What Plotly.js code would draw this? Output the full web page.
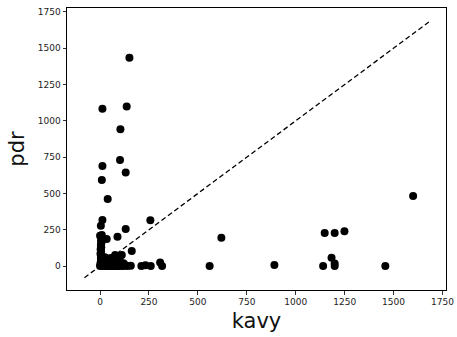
<!DOCTYPE html>
<html>
<head>
<meta charset="utf-8">
<script src="https://cdn.plot.ly/plotly-3.0.1.min.js"></script>
<style>html,body{margin:0;padding:0;background:#fff;}#chart{width:457px;height:337px;}</style>
</head>
<body>
<div id="chart"></div>
<script>
const kavy = [0,2,3,5,4,6,2,5,3,6,4,7,5,8,0,9,4,12,
  10,15,20,25,30,35,40,45,50,55,60,65,70,75,80,85,90,95,100,110,120,130,140,157,
  20,30,40,50,60,70,80,90,25,35,15,45,55,77,111,100,120,162,34,89,131,257,
  211,232,259,307,317,560,620,
  12,9,39,102,131,12,104,136,150,
  891,1140,1183,1199,1199,1148,1199,1249,1458,1600];
const pdr = [0,10,25,40,55,70,85,100,115,130,145,160,175,190,209,214,278,317,
  0,5,0,10,3,0,8,0,5,0,12,2,0,6,0,3,0,4,0,2,0,5,0,2,
  30,20,45,35,25,50,30,15,60,15,45,20,55,76,76,40,20,103,186,202,255,315,
  0,5,0,25,0,0,195,
  689,593,462,730,645,1084,942,1098,1435,
  7,0,57,18,0,227,227,239,0,482];
const lineX = [-80, 1680];
const lineY = [-80, 1680];
const tickVals = [0,250,500,750,1000,1250,1500,1750];

const traces = [
  {x: kavy, y: pdr, type: 'scatter', mode: 'markers',
   marker: {color: '#000000', size: 8}, hoverinfo: 'skip'},
  {x: lineX, y: lineY, type: 'scatter', mode: 'lines',
   line: {color: '#000000', width: 1.3, dash: '5px,3px'}, hoverinfo: 'skip'}
];
const axisCommon = {
  showgrid: false, zeroline: false, showline: true, mirror: true,
  linecolor: '#000', linewidth: 1, ticks: 'outside', ticklen: 3.5, tickwidth: 0.8,
  tickcolor: '#000', tickfont: {family: 'DejaVu Sans', size: 9, color: '#222'},
  tickvals: tickVals, ticktext: tickVals.map(String)
};
const layout = {
  width: 457, height: 337, showlegend: false,
  paper_bgcolor: '#fff', plot_bgcolor: '#fff',
  margin: {l: 67, r: 11, t: 8, b: 47},
  xaxis: Object.assign({}, axisCommon, {range: [-169, 1768],
    title: {text: 'kavy', font: {family: 'DejaVu Sans', size: 21, color: '#111'}, standoff: 7}}),
  yaxis: Object.assign({}, axisCommon, {range: [-165, 1777],
    title: {text: 'pdr', font: {family: 'DejaVu Sans', size: 21, color: '#111'}, standoff: 7}})
};
Plotly.newPlot('chart', traces, layout, {staticPlot: true, displayModeBar: false});
</script>
</body>
</html>
